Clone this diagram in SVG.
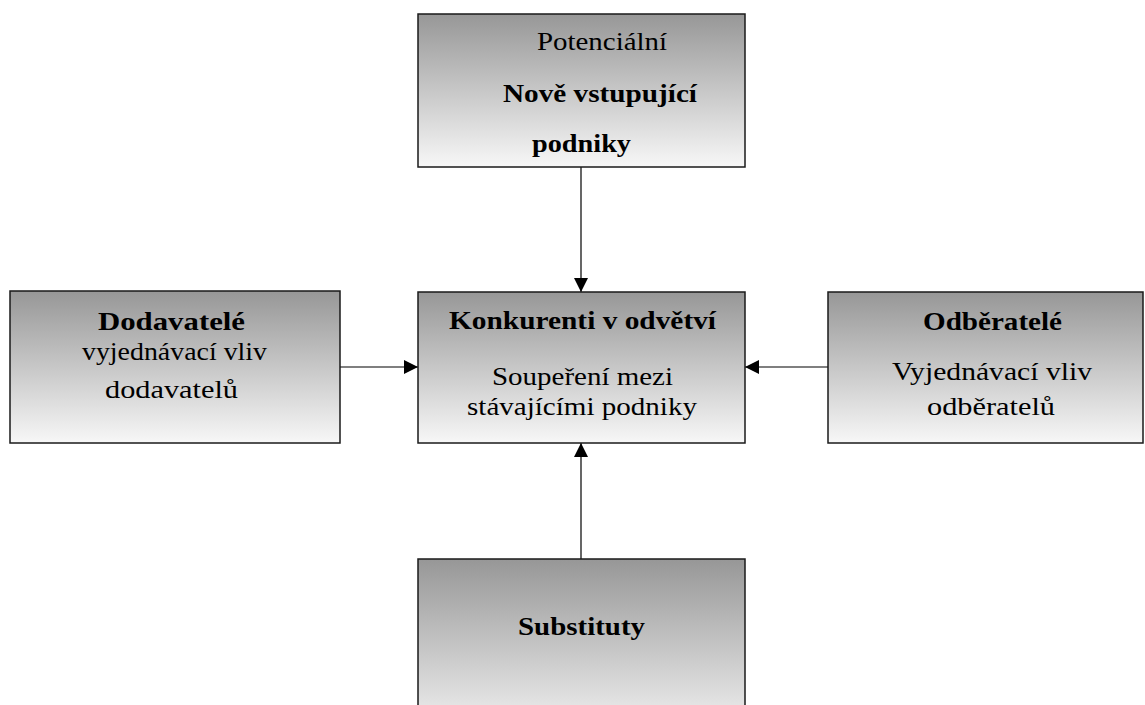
<svg xmlns="http://www.w3.org/2000/svg" width="1145" height="705" viewBox="0 0 1145 705">
<style>
.box{fill:url(#g);stroke:#1a1a1a;stroke-width:1.5}
.t{font-family:"Liberation Serif","Times New Roman",serif;font-size:26px;fill:#000}
.b{font-weight:bold}
.c{stroke:#000;stroke-width:1.2;fill:none;marker-end:url(#ah)}
</style>
<defs>
<linearGradient id="g" x1="0" y1="0" x2="0" y2="1">
<stop offset="0" stop-color="#979797"/>
<stop offset="1" stop-color="#f7f7f7"/>
</linearGradient>
<linearGradient id="gb" x1="0" y1="0" x2="0" y2="1">
<stop offset="0" stop-color="#979797"/>
<stop offset="1" stop-color="#f5f5f5"/>
</linearGradient>
<marker id="ah" viewBox="0 0 10 10" refX="10" refY="5" markerWidth="14" markerHeight="14" markerUnits="userSpaceOnUse" orient="auto">
<path d="M0,0 L10,5 L0,10 Z" fill="#000"/>
</marker>
<clipPath id="topclip"><rect x="418" y="14" width="327" height="144"/></clipPath>
</defs>
<g id="connectors">
<line class="c" x1="581" y1="167" x2="581" y2="292"/>
<line class="c" x1="340" y1="367" x2="418" y2="367"/>
<line class="c" x1="828" y1="367" x2="745" y2="367"/>
<line class="c" x1="581" y1="559" x2="581" y2="443"/>
</g>
<g id="node-top">
<rect class="box" x="418" y="14" width="327" height="153"/>
<g clip-path="url(#topclip)">
<text class="t" x="537" y="50" textLength="130" lengthAdjust="spacingAndGlyphs">Potenciální</text>
<text class="t b" x="503" y="102" textLength="194" lengthAdjust="spacingAndGlyphs">Nově vstupující</text>
<text class="t b" x="532" y="152" textLength="99" lengthAdjust="spacingAndGlyphs">podniky</text>
</g>
</g>
<g id="node-center">
<rect class="box" x="418" y="292" width="327" height="151"/>
<text class="t b" x="449" y="329" textLength="267" lengthAdjust="spacingAndGlyphs">Konkurenti v odvětví</text>
<text class="t" x="492" y="385" textLength="181" lengthAdjust="spacingAndGlyphs">Soupeření mezi</text>
<text class="t" x="467" y="415" textLength="230" lengthAdjust="spacingAndGlyphs">stávajícími podniky</text>
</g>
<g id="node-left">
<rect class="box" x="10" y="291" width="330" height="152"/>
<text class="t b" x="98" y="330" textLength="147" lengthAdjust="spacingAndGlyphs">Dodavatelé</text>
<text class="t" x="82" y="360" textLength="185" lengthAdjust="spacingAndGlyphs">vyjednávací vliv</text>
<text class="t" x="105" y="398" textLength="133" lengthAdjust="spacingAndGlyphs">dodavatelů</text>
</g>
<g id="node-right">
<rect class="box" x="828" y="292" width="315" height="151"/>
<text class="t b" x="923" y="330" textLength="139" lengthAdjust="spacingAndGlyphs">Odběratelé</text>
<text class="t" x="892" y="380" textLength="200" lengthAdjust="spacingAndGlyphs">Vyjednávací vliv</text>
<text class="t" x="927" y="415" textLength="128" lengthAdjust="spacingAndGlyphs">odběratelů</text>
</g>
<g id="node-bottom">
<rect x="418" y="559" width="327" height="180" fill="url(#gb)" stroke="#1a1a1a" stroke-width="1.5"/>
<text class="t b" x="518" y="635" textLength="127" lengthAdjust="spacingAndGlyphs">Substituty</text>
</g>
</svg>
